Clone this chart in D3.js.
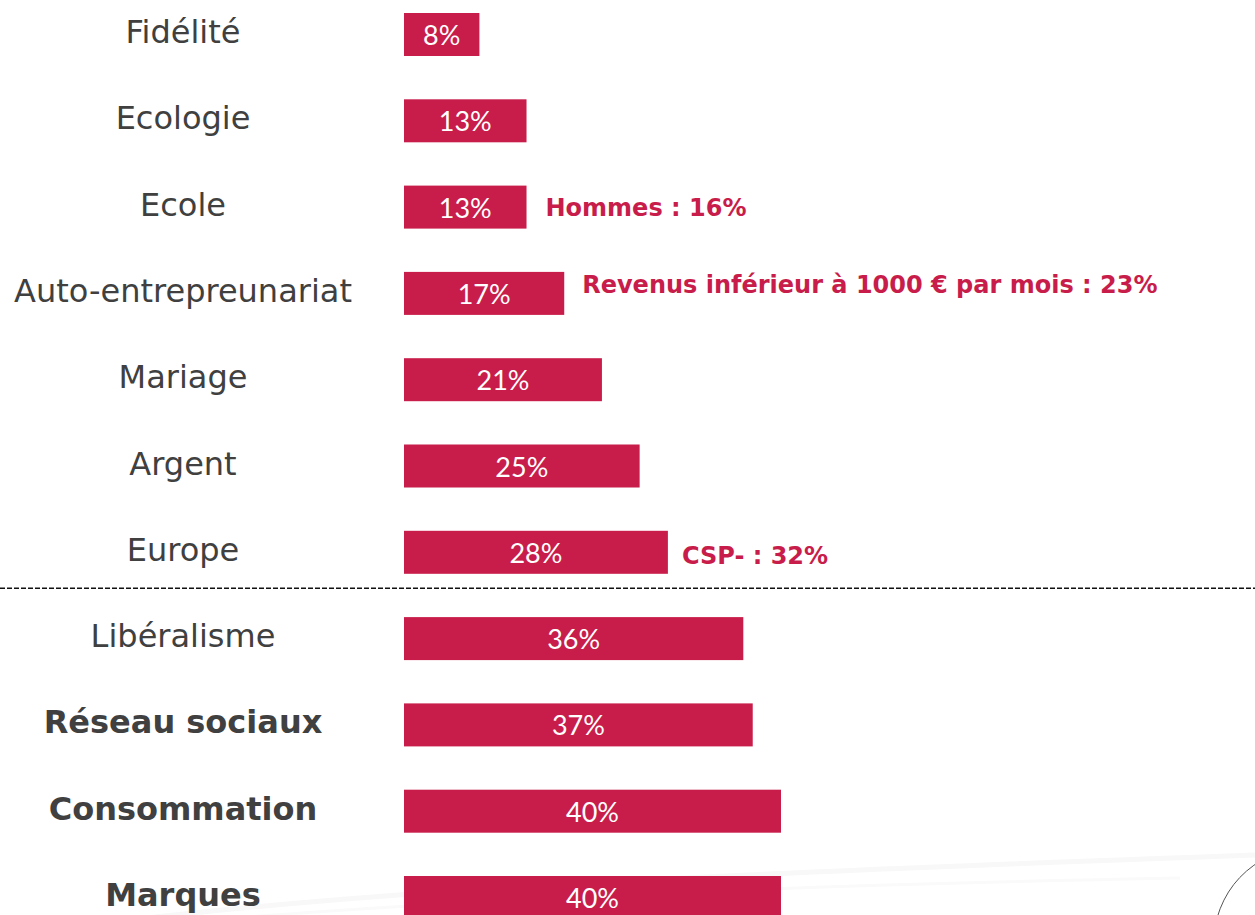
<!DOCTYPE html>
<html>
<head>
<meta charset="utf-8">
<script src="https://cdn.jsdelivr.net/npm/d3@7/dist/d3.min.js"></script>
<style>
  body { margin: 0; background: #fff; overflow: hidden; }
  svg { display: block; }
</style>
</head>
<body>
<svg></svg>
<script>
var width = 1255;
var height = 915;

// data
var categories = ["Fidélité", "Ecologie", "Ecole", "Auto-entrepreunariat", "Mariage", "Argent", "Europe",
                  "Libéralisme", "Réseau sociaux", "Consommation", "Marques"];
var values = [8, 13, 13, 17, 21, 25, 28, 36, 37, 40, 40];
var boldLabels = ["Réseau sociaux", "Consommation", "Marques"];
var notes = [
  { cat: "Ecole", text: "Hommes : 16%" },
  { cat: "Auto-entrepreunariat", text: "Revenus inférieur à 1000 € par mois : 23%" },
  { cat: "Europe", text: "CSP- : 32%" }
];
var separatorAfter = "Europe";

var red = "#c81d4a";
var bar_h = 43;

var svg = d3.select("svg").attr("width", width).attr("height", height);

var x = d3.scaleLinear().domain([0, 40]).range([404, 781]);
var y = d3.scalePoint().domain(categories).range([34.5, 897.5]);

// very faint background swooshes at the bottom
svg.append("path")
  .attr("d", "M-20,940 C300,890 700,875 1255,855")
  .attr("fill", "none").attr("stroke", "#f8f8f8").attr("stroke-width", 5);
svg.append("path")
  .attr("d", "M100,930 C400,900 800,885 1180,878")
  .attr("fill", "none").attr("stroke", "#fafafa").attr("stroke-width", 3);

// thin arc bottom right
svg.append("path")
  .attr("d", "M1217,918 Q1228,880 1262,860")
  .attr("fill", "none").attr("stroke", "#555").attr("stroke-width", 1);

// dashed separator
var sep_y = y(separatorAfter) + 36;
svg.append("line")
  .attr("x1", 0).attr("x2", width)
  .attr("y1", sep_y).attr("y2", sep_y)
  .attr("stroke", "#111").attr("stroke-width", 1.5)
  .attr("stroke-dasharray", "5,2");

var rows = svg.selectAll(".row")
  .data(categories.map(function (c, i) { return { cat: c, val: values[i] }; }))
  .enter().append("g").attr("class", "row");

rows.append("rect")
  .attr("x", x(0))
  .attr("y", function (d) { return y(d.cat) - bar_h / 2; })
  .attr("width", function (d) { return x(d.val) - x(0); })
  .attr("height", bar_h)
  .attr("fill", red);

rows.append("text")
  .attr("x", function (d) { return (x(0) + x(d.val)) / 2; })
  .attr("y", function (d) { return y(d.cat) + 10.5; })
  .attr("text-anchor", "middle")
  .style("font-family", "Lato, 'Open Sans', sans-serif")
  .style("font-size", "27px")
  .attr("fill", "#fff")
  .text(function (d) { return d.val + "%"; });

rows.append("text")
  .attr("x", 183)
  .attr("y", function (d) { return y(d.cat) + 8.5; })
  .attr("text-anchor", "middle")
  .style("font-family", "'DejaVu Sans', Verdana, sans-serif")
  .style("font-size", "32px")
  .style("font-weight", function (d) { return boldLabels.indexOf(d.cat) >= 0 ? "bold" : "normal"; })
  .attr("fill", "#404040")
  .text(function (d) { return d.cat; });

// annotations
svg.selectAll(".note")
  .data(notes).enter().append("text")
  .attr("class", "note")
  .attr("x", function (d, i) { return x(values[categories.indexOf(d.cat)]) + [19, 18, 14][i]; })
  .attr("y", function (d, i) { return y(d.cat) + [9, 0, 11.5][i]; })
  .style("font-family", "'DejaVu Sans', Verdana, sans-serif")
  .style("font-size", "24px")
  .style("font-weight", "bold")
  .attr("fill", red)
  .text(function (d) { return d.text; });
</script>
</body>
</html>
